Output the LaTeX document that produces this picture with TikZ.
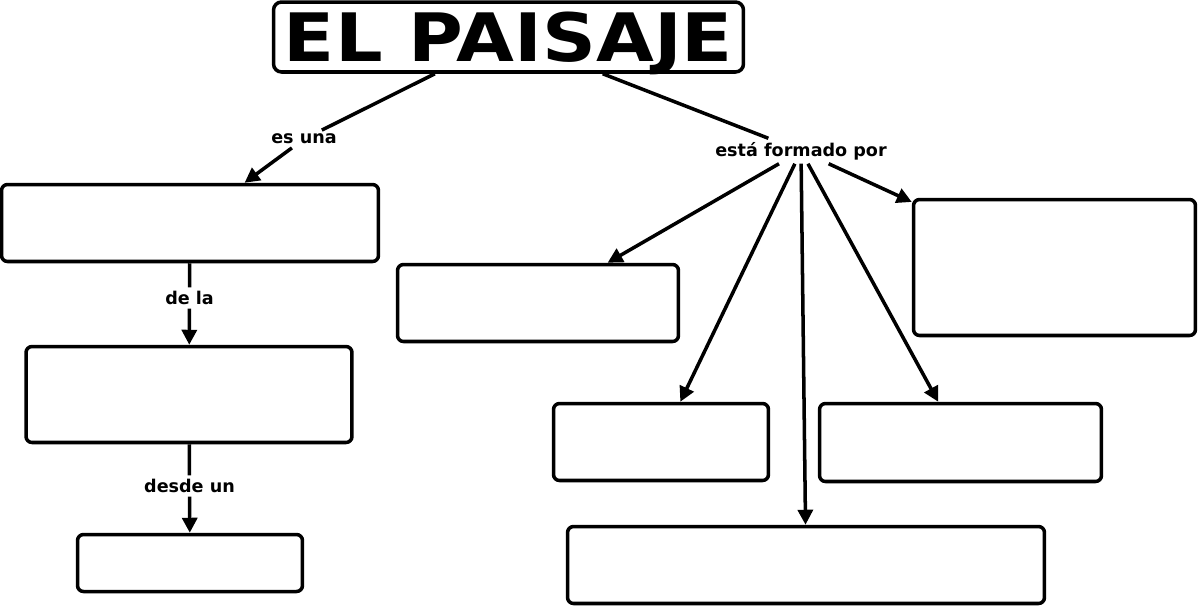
\documentclass[tikz,border=0pt]{standalone}
\usepackage{fontspec}
\setmainfont{DejaVu Sans}
\newfontfamily\titlefont[FakeStretch=1.12]{DejaVu Sans}
\usepackage{xcolor}
\usepackage{tikz}
\usetikzlibrary{arrows.meta, positioning}

\begin{document}
\begin{tikzpicture}[x=0.02cm, y=-0.02cm,
  concept/.style={draw, line width=2pt, rounded corners=0.12cm, inner sep=0pt},
  linkword/.style={font=\bfseries\fontsize{10}{12}\selectfont, inner sep=2pt},
  link/.style={line width=2pt},
  linkarrow/.style={line width=2pt, -{Triangle[length=0.3cm, width=0.3cm]}}]
  \useasboundingbox (0,0) rectangle (1199,609);
  % Title
  \node[concept, minimum width=9.4cm, minimum height=1.4cm, rounded corners=0.16cm,
    text height=0.99cm, text depth=0cm,
    font=\titlefont\bfseries\fontsize{38}{44}\selectfont] (paisaje) at (508.5,37) {EL PAISAJE};
  % Empty concepts
  \foreach \name/\cx/\cy/\w/\h in {c1/190/223/7.54/1.54, c2/189/394.5/6.52/1.92, c3/190/563/4.5/1.14,
      r1/538/303/5.62/1.54, r2/1054.5/267.5/5.64/2.72, r3/661/442/4.3/1.54,
      r4/960.5/442.5/5.64/1.56, r5/806/565/9.54/1.54} {
    \node[concept, minimum width=\w cm, minimum height=\h cm] (\name) at (\cx,\cy) {};
  }
  % Linking words
  \node[linkword] (esuna) at (304,139) {es una};
  \node[linkword] (formado) at (801,151) {está formado por};
  \node[linkword] (dela) at (189.5,298) {de la};
  \node[linkword] (desde) at (189.5,486) {desde un};
  % Left branch
  \draw[link] (paisaje) -- (esuna);
  \draw[linkarrow] (esuna) -- (c1);
  \draw[link] (c1) -- (dela);
  \draw[linkarrow] (dela) -- (c2);
  \draw[link] (c2) -- (desde);
  \draw[linkarrow] (desde) -- (c3);
  % Right branch
  \draw[link] (paisaje) -- (formado);
  \foreach \t in {r1, r2, r3, r4, r5} {
    \draw[linkarrow] (formado) -- (\t);
  }
\end{tikzpicture}
\end{document}
